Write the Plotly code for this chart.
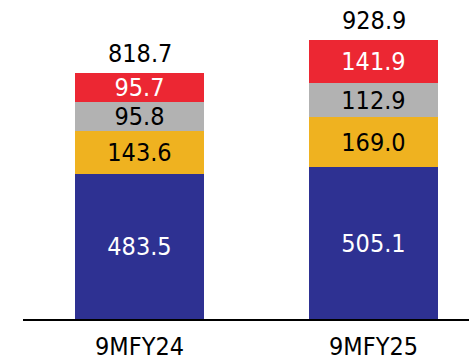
import plotly.graph_objects as go

categories = ["9MFY24", "9MFY25"]
seg_blue = [483.5, 505.1]
seg_orange = [143.6, 169.0]
seg_grey = [95.8, 112.9]
seg_red = [95.7, 141.9]
totals = [818.7, 928.9]

FONT = "DejaVu Sans Condensed"
SIZE = 25

series = [
    (seg_blue, "#2E3192", "white"),
    (seg_orange, "#EFB220", "black"),
    (seg_grey, "#B2B2B2", "black"),
    (seg_red, "#EC2733", "white"),
]

fig = go.Figure()
for vals, color, tcolor in series:
    fig.add_trace(go.Bar(
        x=categories,
        y=vals,
        marker=dict(color=color, line=dict(width=0)),
        width=0.551,
        text=[f"{v:.1f}" for v in vals],
        textposition="inside",
        insidetextanchor="middle",
        constraintext="none",
        textfont=dict(family=FONT, size=SIZE, color=tcolor),
        hoverinfo="skip",
        showlegend=False,
    ))

for cat, tot in zip(categories, totals):
    fig.add_annotation(
        x=cat, y=tot, text=f"{tot:.1f}",
        showarrow=False, yanchor="bottom", yshift=3,
        font=dict(family=FONT, size=SIZE, color="black"),
    )

fig.update_layout(
    barmode="stack",
    width=469, height=361,
    margin=dict(l=23, r=0, t=0, b=40),
    paper_bgcolor="white",
    plot_bgcolor="white",
    bargap=0,
)
fig.update_xaxes(
    type="category",
    range=[-0.498, 1.408],
    showline=True, linecolor="black", linewidth=2,
    ticks="", showgrid=False, zeroline=False,
    ticklabelstandoff=4,
    tickfont=dict(family=FONT, size=SIZE, color="black"),
)
fig.update_yaxes(
    range=[0, 1063],
    visible=False, showgrid=False, zeroline=False,
)

fig.write_html("out.html")
